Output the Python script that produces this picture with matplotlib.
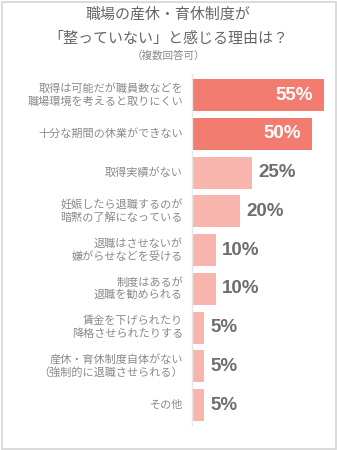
import matplotlib
matplotlib.use("Agg")
import matplotlib.pyplot as plt
from matplotlib.patches import Rectangle

plt.rcParams['font.family'] = ['Noto Sans CJK JP', 'DejaVu Sans']

categories = [
    "取得は可能だが職員数などを\n職場環境を考えると取りにくい",
    "十分な期間の休業ができない",
    "取得実績がない",
    "妊娠したら退職するのが\n暗黙の了解になっている",
    "退職はさせないが\n嫌がらせなどを受ける",
    "制度はあるが\n退職を勧められる",
    "賃金を下げられたり\n降格させられたりする",
    "産休・育休制度自体がない\n（強制的に退職させられる）",
    "その他",
]
values = [55, 50, 25, 20, 10, 10, 5, 5, 5]
value_labels = ["55%", "50%", "25%", "20%", "10%", "10%", "5%", "5%", "5%"]
title_lines = ["職場の産休・育休制度が", "「整っていない」と感じる理由は？"]
subtitle = "（複数回答可）"

W, H = 337, 450
fig = plt.figure(figsize=(W / 100, H / 100), dpi=100)
fig.patch.set_facecolor("white")

# border
fig.patches.append(Rectangle((1.5 / W, 1.5 / H), (W - 3) / W, (H - 3) / H,
                             transform=fig.transFigure, fill=False,
                             edgecolor="#d4d4d4", linewidth=1.2))

ax_left = 192 / W
ax_top = 74
ax_bot = 425
ax = fig.add_axes([ax_left, (H - ax_bot) / H, 144 / W, (ax_bot - ax_top) / H])
ax.set_xlim(0, 60)
n = len(values)
pitch = (405 - 95) / (n - 1)
ax.set_ylim(8 + (ax_bot - 405) / pitch, -(95 - ax_top) / pitch)

dark = "#F27C6F"
light = "#F8B5AE"
ypos = list(range(n))
colors = [dark if v >= 50 else light for v in values]
ax.barh(ypos, values, height=32 / pitch, color=colors, left=0)

for y, v, lab in zip(ypos, values, value_labels):
    if v >= 50:
        ax.annotate(lab, (v, y), xytext=(-8, 0), textcoords="offset points",
                    ha="right", va="center", color="white", fontsize=13.5,
                    fontweight="bold", family=["Liberation Sans"])
    else:
        ax.annotate(lab, (v, y), xytext=(4.3, 0), textcoords="offset points",
                    ha="left", va="center", color="#6e6e6e", fontsize=13.5,
                    fontweight="bold", family=["Liberation Sans"])

for y, c in zip(ypos, categories):
    ax.annotate(c, (0, y), xytext=(-6.5, 0), textcoords="offset points",
                ha="right", va="center", color="#8a8a8a", fontsize=8.0,
                linespacing=1.25)

for s in ["top", "right", "bottom"]:
    ax.spines[s].set_visible(False)
ax.spines["left"].set_color("#e6e6e6")
ax.spines["left"].set_linewidth(1.0)
ax.set_xticks([])
ax.set_yticks([])
ax.patch.set_alpha(0)

fig.text(168 / W, 1 - 15 / H, title_lines[0], ha="center", va="center",
         fontsize=10.8, color="#666666")
fig.text(168 / W, 1 - 39 / H, title_lines[1], ha="center", va="center",
         fontsize=10.8, color="#666666")
fig.text(168 / W, 1 - 55.5 / H, subtitle, ha="center", va="center",
         fontsize=7.6, color="#888888")

fig.savefig("out.png", dpi=100, facecolor="white")
